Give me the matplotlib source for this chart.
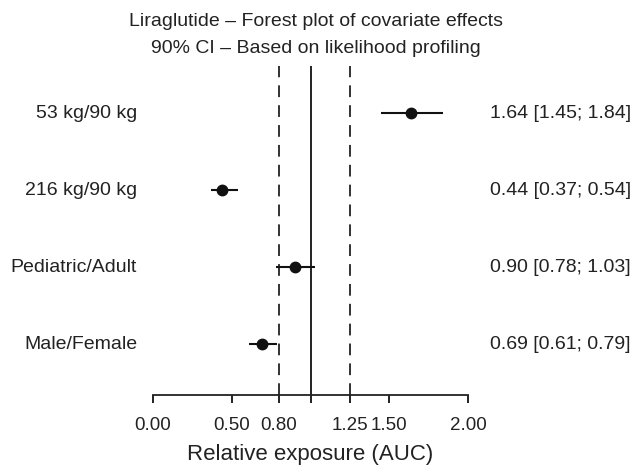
import numpy as np
import matplotlib.pyplot as plt

plt.rcParams['font.family'] = ['Liberation Sans', 'DejaVu Sans']

labels = ['53 kg/90 kg', '216 kg/90 kg', 'Pediatric/Adult', 'Male/Female']
est = [1.64, 0.44, 0.90, 0.69]
lo = [1.45, 0.37, 0.78, 0.61]
hi = [1.84, 0.54, 1.03, 0.79]
ticks = [0.0, 0.5, 0.8, 1.0, 1.25, 1.5, 2.0]
tick_labels = ['0.00', '0.50', '0.80', '', '1.25', '1.50', '2.00']

txt = '#222222'
fig = plt.figure(figsize=(6.32, 4.65), dpi=100)
ax = fig.add_axes([153/632, 1-395/465, (468-153)/632, (395-66)/465])

ypos = np.arange(len(labels), 0, -1)
ax.axvline(1.0, color='#222222', lw=1.4)
ax.axvline(0.8, color='#222222', lw=1.3, ls=(0, (6.5, 4.5)))
ax.axvline(1.25, color='#222222', lw=1.3, ls=(0, (6.5, 4.5)))
ax.hlines(ypos, lo, hi, color='#111111', lw=1.5)
ax.plot(est, ypos, 'o', color='#111111', ms=7.5)

for y, lab, e, l, h in zip(ypos, labels, est, lo, hi):
    ax.text(-0.1, y, lab, ha='right', va='center', fontsize=14, color=txt)
    ax.text(2.14, y, '%.2f [%.2f; %.2f]' % (e, l, h), ha='left', va='center',
            fontsize=14, color=txt)

ax.set_xlim(0, 2)
ax.set_ylim(0.34, 4.61)
ax.set_xticks(ticks)
ax.set_xticklabels(tick_labels, fontsize=13.5, color=txt)
ax.tick_params(axis='x', length=6, width=1.4, pad=10, color='#222222')
ax.set_yticks([])
for s in ['top', 'left', 'right']:
    ax.spines[s].set_visible(False)
ax.spines['bottom'].set_linewidth(1.3)
ax.spines['bottom'].set_color('#222222')
ax.set_xlabel('Relative exposure (AUC)', fontsize=16, color=txt, labelpad=7)

fig.text(0.5, 1-26/465, 'Liraglutide \u2013 Forest plot of covariate effects',
         ha='center', va='baseline', fontsize=14, color=txt)
fig.text(0.5, 1-53/465, '90% CI \u2013 Based on likelihood profiling',
         ha='center', va='baseline', fontsize=14, color=txt)

fig.savefig('out.png', dpi=100)
